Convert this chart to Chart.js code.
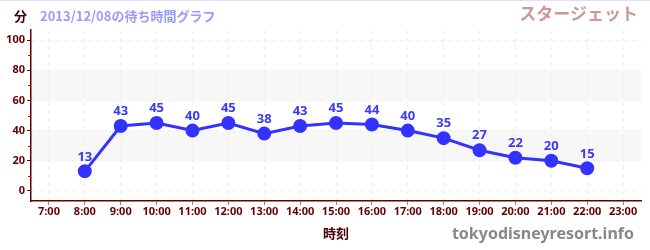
<!DOCTYPE html>
<html>
<head>
<meta charset="utf-8">
<script src="https://cdn.jsdelivr.net/npm/chart.js@4"></script>
<style>
  html, body { margin: 0; padding: 0; background: #fff; }
  #wrap { position: relative; width: 650px; height: 250px; border-top: 1px solid #e0e0f8; box-sizing: border-box; font-family: "Noto Sans CJK JP", "Noto Sans", sans-serif; font-weight: bold; }
  #wrap canvas { position: absolute; left: 0; top: 0; }
  .lbl { position: absolute; white-space: nowrap; line-height: 1; }
</style>
</head>
<body>
<div id="wrap">
  <canvas id="waitChart" width="650" height="249"></canvas>
  <div class="lbl" style="left:14px;top:8px;font-size:13px;color:#400;">分</div>
  <div class="lbl" style="left:40px;top:8px;font-size:13px;color:#99f;">2013/12/08の待ち時間グラフ</div>
  <div class="lbl" style="right:12px;top:3px;font-size:17px;color:#c99;">スタージェット</div>
  <div class="lbl" style="right:16px;top:224px;font-size:16px;color:#888;font-family:'Noto Sans',sans-serif;">tokyodisneyresort.info</div>
</div>
<script>
// wait times (minutes) for each hour of the day
const hours = ['7:00', '8:00', '9:00', '10:00', '11:00', '12:00', '13:00', '14:00', '15:00',
               '16:00', '17:00', '18:00', '19:00', '20:00', '21:00', '22:00', '23:00'];
const waitMinutes = [null, 13, 43, 45, 40, 45, 38, 43, 45, 44, 40, 35, 27, 22, 20, 15, null];
const yTicks = [0, 20, 40, 60, 80, 100];
const shadedBands = [[20, 40], [60, 80]];

// light grey bands behind the plot
const bandPlugin = {
    id: 'bands',
    beforeDraw(chart) {
        const ctx = chart.ctx;
        const area = chart.chartArea;
        const y = chart.scales.y;
        ctx.save();
        ctx.fillStyle = '#f7f7f7';
        shadedBands.forEach(b => {
            const top = y.getPixelForValue(b[1]);
            const bottom = y.getPixelForValue(b[0]);
            ctx.fillRect(area.left, top, area.right - area.left, bottom - top);
        });
        ctx.restore();
    },
    afterDraw(chart) {
        // small red minor ticks on the y axis
        const ctx = chart.ctx;
        const y = chart.scales.y;
        const x0 = chart.chartArea.left;
        ctx.save();
        ctx.strokeStyle = '#d00';
        ctx.lineWidth = 1;
        for (let v = 10; v < 100; v += 20) {
            const py = Math.round(y.getPixelForValue(v)) + 0.5;
            ctx.beginPath();
            ctx.moveTo(x0 - 3, py);
            ctx.lineTo(x0, py);
            ctx.stroke();
        }
        ctx.restore();
    }
};

// value labels above the points
const valueLabels = {
    id: 'valueLabels',
    afterDatasetsDraw(chart) {
        const ctx = chart.ctx;
        const meta = chart.getDatasetMeta(0);
        ctx.save();
        ctx.font = 'bold 13px "Noto Sans", sans-serif';
        ctx.fillStyle = '#3a3af2';
        ctx.textAlign = 'center';
        ctx.textBaseline = 'bottom';
        meta.data.forEach((pt, i) => {
            const v = waitMinutes[i];
            if (v === null || pt.skip) return;
            ctx.fillText(String(v), pt.x, pt.y - 8);
        });
        ctx.restore();
    }
};

const ctx = document.getElementById('waitChart').getContext('2d');
new Chart(ctx, {
    type: 'line',
    data: {
        labels: hours,
        datasets: [{
            data: waitMinutes,
            borderColor: '#3333ff',
            backgroundColor: '#3333ff',
            borderWidth: 3,
            pointRadius: 5.5,
            pointHoverRadius: 5.5,
            tension: 0
        }]
    },
    options: {
        responsive: false,
        animation: false,
        layout: { padding: { top: 29, right: 9, left: 0, bottom: 9 } },
        plugins: {
            legend: { display: false },
            tooltip: { enabled: false }
        },
        scales: {
            x: {
                offset: true,
                afterFit(scale) { scale.height = 40; },
                border: { color: '#600', width: 1.5, dash: [4, 4] },
                grid: {
                    offset: false,
                    color: '#eeeeee',
                    tickColor: '#888',
                    tickLength: 4,
                    tickBorderDash: [],
                    drawOnChartArea: true
                },
                ticks: {
                    color: '#600',
                    font: { family: '"Noto Sans", sans-serif', size: 11, weight: 'bold' },
                    padding: 0,
                    maxRotation: 0,
                    autoSkip: false
                },
                title: {
                    display: true,
                    text: '時刻',
                    color: '#400',
                    font: { family: '"Noto Sans CJK JP", sans-serif', size: 13, weight: 'bold' },
                    padding: { top: 2, bottom: 0 }
                }
            },
            y: {
                min: -6.67,
                max: 106.67,
                afterFit(scale) { scale.width = 31; },
                afterBuildTicks(scale) { scale.ticks = yTicks.map(v => ({ value: v })); },
                border: { color: '#600', width: 1.5, dash: [4, 4] },
                grid: {
                    color: '#eeeeee',
                    tickColor: '#222',
                    tickLength: 4,
                    tickBorderDash: []
                },
                ticks: {
                    color: '#600',
                    font: { family: '"Noto Sans", sans-serif', size: 11, weight: 'bold' },
                    padding: 2
                }
            }
        }
    },
    plugins: [bandPlugin, valueLabels]
});
</script>
</body>
</html>
